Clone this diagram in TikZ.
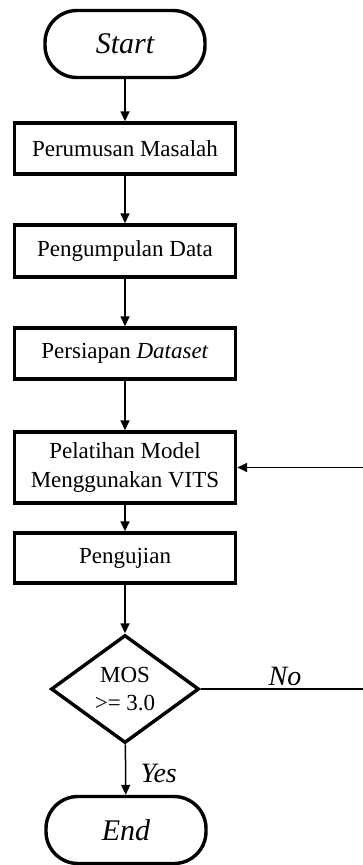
\documentclass[tikz,border=0pt]{standalone}
\usepackage{fontspec}
\setmainfont{Liberation Serif}
\usetikzlibrary{arrows.meta,shapes.geometric}
\tikzset{
	stepbox/.style={draw, line width=3.4pt, rectangle, minimum width=221pt, align=center, inner sep=0pt, font=\fontsize{23}{29}\selectfont},
	term/.style={draw, line width=3.4pt, rectangle, rounded corners=32pt, minimum width=160pt, minimum height=67pt, font=\fontsize{30}{34}\selectfont\itshape},
	decide/.style={draw, line width=3.4pt, diamond, minimum width=148pt, minimum height=108pt, inner sep=0pt, align=center, font=\fontsize{23}{28}\selectfont},
	flow/.style={line width=1.5pt, -{Triangle[length=10pt,width=9pt]}},
	answer/.style={font=\fontsize{28}{30}\selectfont\itshape}
}

\begin{document}
\begin{tikzpicture}[x=1pt, y=-1pt]
			%%%%% START %%%%%
			
			\useasboundingbox (0, 0) rectangle (363, 865);
			
			\node[term] (start) at (125, 44) {Start};
			\node[stepbox, minimum height=51pt] (rumus) at (125, 148.5) {Perumusan Masalah};
			\node[stepbox, minimum height=52pt] (kumpul) at (125, 251) {Pengumpulan Data};
			\node[stepbox, minimum height=51pt] (siap) at (125, 353.5) {Persiapan \textit{Dataset}};
			\node[stepbox, minimum height=71pt] (latih) at (125, 467.5) {Pelatihan Model\\Menggunakan VITS};
			\node[stepbox, minimum height=50pt] (uji) at (125, 558) {Pengujian};
			\node[decide] (mos) at (125, 689) {MOS\\>= 3.0};
			\node[term] (end) at (126, 830) {End};
			
			\coordinate (balik) at (385, 689);
			
			\draw[flow] (start) -- (rumus);
			\draw[flow] (rumus) -- (kumpul);
			\draw[flow] (kumpul) -- (siap);
			\draw[flow] (siap) -- (latih);
			\draw[flow] (latih) -- (uji);
			\draw[flow] (uji) -- (mos);
			\draw[flow] (mos) -- (end);
			\draw[flow] (mos.east) -- (balik) |- (latih.east);
			
			\node[answer, anchor=west] (ya) at (137, 773) {Yes};
			\node[answer] (tidak) at (285, 676) {No};
			
			%%%%% END %%%%%
\end{tikzpicture}
\end{document}
